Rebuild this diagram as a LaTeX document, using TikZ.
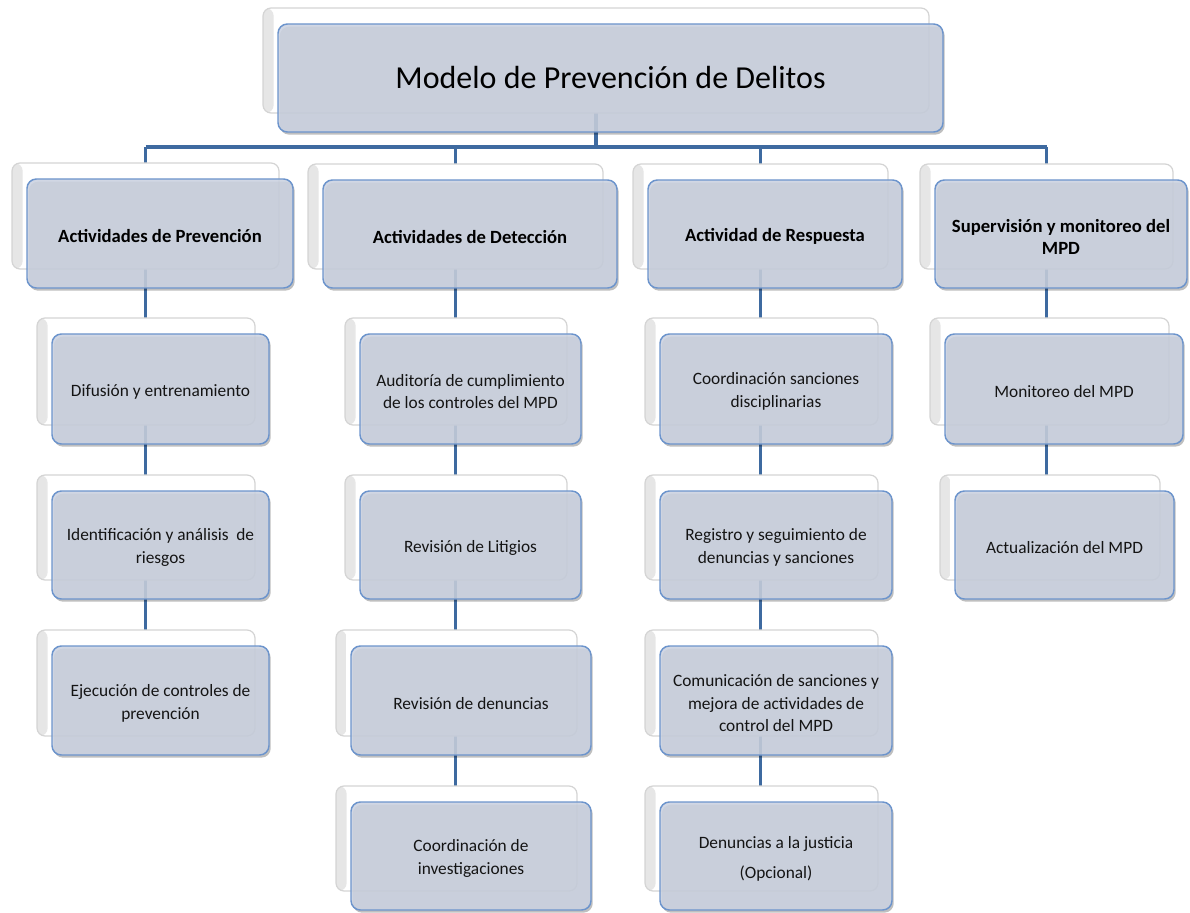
\documentclass[tikz,border=0pt]{standalone}
\usepackage{fontspec}
\setmainfont{Carlito}
\usetikzlibrary{fit,shadows,backgrounds}
\definecolor{connc}{RGB}{62,106,160}
\definecolor{boxfill}{RGB}{203,210,224}
\definecolor{boxline}{RGB}{108,148,204}
\definecolor{cardline}{RGB}{212,212,212}
\definecolor{txt}{RGB}{20,20,20}
\pgfdeclarelayer{bgl}
\pgfdeclarelayer{cards}
\pgfsetlayers{bgl,cards,main}
\tikzset{
  card/.style={draw=cardline, line width=0.9pt, fill=white, rounded corners=6pt, inner sep=0pt,
    path picture={\shade[left color=black!10, right color=white] (path picture bounding box.south west) rectangle ([xshift=8pt]path picture bounding box.north west);}},
  mainbox/.style={draw=boxline, line width=1.1pt, fill=boxfill, fill opacity=0.87,
    rounded corners=7pt, inner sep=0pt,
    drop shadow={shadow xshift=1.3pt, shadow yshift=-2pt, opacity=0.25, fill=black}},
  boxtext/.style={align=center, inner sep=0pt, text=txt},
  titletext/.style={boxtext, font=\fontsize{24}{28}\selectfont, text=black},
  headtext/.style={boxtext, font=\fontsize{14}{16.5}\selectfont\bfseries, text=black, yshift=-2pt},
  leaftext/.style={boxtext, font=\fontsize{13}{17}\selectfont, yshift=-2pt},
  conn/.style={draw=connc, line width=2.3pt}
}
\newcommand\orgbox[7]{%
  \begin{pgfonlayer}{cards}
    \node[card, fit={({#2-15},{#3-16}) ({#4-14},{#5-19})}] (#1c) {};
  \end{pgfonlayer}
  \node[mainbox, fit={(#2,#3) (#4,#5)}] (#1) {};
  \node[#6] (#1t) at (#1.center) {#7};
}
\begin{document}
\begin{tikzpicture}[x=0.75pt, y=-0.75pt]
\useasboundingbox (0,0) rectangle (1190,913);
% top
\orgbox{top}{278}{24}{943}{132}{titletext}{Modelo de Prevención de Delitos}
% headers
\orgbox{ha}{27}{179}{293}{288}{headtext}{Actividades de Prevención}
\orgbox{hb}{323}{180}{617}{288}{headtext}{Actividades de Detección}
\orgbox{hc}{648}{180}{902}{288}{headtext}{Actividad de Respuesta}
\orgbox{hd}{935}{180}{1187}{288}{headtext}{Supervisión y monitoreo del\\MPD}
% column 1
\orgbox{aa}{52}{334}{269}{444}{leaftext}{Difusión y entrenamiento}
\orgbox{ab}{52}{491}{269}{599}{leaftext}{Identificación y análisis\ \ de\\riesgos}
\orgbox{ac}{52}{646}{269}{755}{leaftext}{Ejecución de controles de\\prevención}
% column 2
\orgbox{ba}{360}{334}{581}{444}{leaftext}{Auditoría de cumplimiento\\de los controles del MPD}
\orgbox{bb}{360}{491}{581}{599}{leaftext}{Revisión de Litigios}
\orgbox{bc}{351}{646}{591}{755}{leaftext}{Revisión de denuncias}
\orgbox{bd}{351}{802}{591}{910}{leaftext}{Coordinación de\\investigaciones}
% column 3
\orgbox{ca}{660}{334}{892}{444}{leaftext}{Coordinación sanciones\\disciplinarias}
\orgbox{cb}{660}{491}{892}{599}{leaftext}{Registro y seguimiento\ de\\denuncias y sanciones}
\orgbox{cc}{660}{646}{892}{755}{leaftext}{Comunicación de sanciones y\\mejora de actividades de\\control del MPD}
\orgbox{cd}{660}{802}{892}{910}{leaftext}{Denuncias a la justicia\\[5.5pt](Opcional)}
% column 4
\orgbox{da}{945}{334}{1183}{444}{leaftext}{Monitoreo del MPD}
\orgbox{db}{955}{491}{1174}{599}{leaftext}{Actualización del MPD}
% connectors
\coordinate (busy) at (0,147);
\begin{pgfonlayer}{bgl}
  \draw[conn] (topc.center) -- (topc.center |- busy);
  \draw[conn] (hac.center |- busy) -- (hdc.center |- busy);
  \foreach \h in {hac,hbc,hcc,hdc} \draw[conn] (\h.center |- busy) -- (\h.center);
  \draw[conn] (hac.center) -- (hac.center |- acc.center);
  \draw[conn] (hbc.center) -- (hbc.center |- bdc.center);
  \draw[conn] (hcc.center) -- (hcc.center |- cdc.center);
  \draw[conn] (hdc.center) -- (hdc.center |- dbc.center);
\end{pgfonlayer}
\end{tikzpicture}
\end{document}
